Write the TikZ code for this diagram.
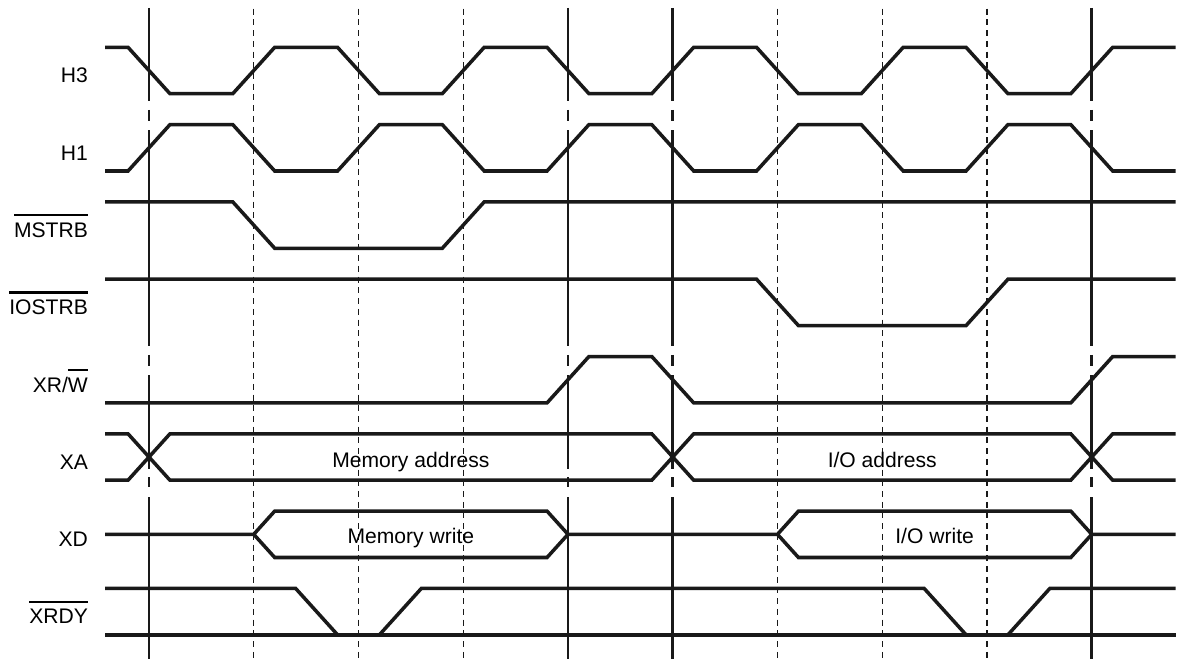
\documentclass[tikz,border=0pt]{standalone}
\usepackage{fontspec}
\setmainfont{Liberation Sans}
\usepackage{tikz}
\newcommand{\ovl}[1]{\leavevmode\vbox{\hrule height 1.3pt\kern 3.6pt\hbox{#1}}}

\begin{document}
\begin{tikzpicture}[x=2.095cm,y=-1.546cm,
  font=\fontsize{12}{14}\selectfont,
  sig/.style={line width=2pt,color=black!90},
  phase/.style={line width=1.5pt,color=black!90},
  tickline/.style={line width=0.8pt,dash pattern=on 3.4pt off 2.7pt,color=black!90},
  lbl/.style={anchor=base east,inner sep=0pt},
  val/.style={anchor=base,inner sep=0pt}]
\useasboundingbox (-1.4224,-0.912) rectangle (9.8234,7.613);
% cycle boundaries
\foreach \t in {1,2,3,6,7,8} \draw[tickline] (\t,-0.8) -- (\t,7.62);
\foreach \t in {0,4,5,9}
  \foreach \a/\b in {-0.81/0.39,0.51/0.65,0.77/3.56,3.68/3.82,3.94/5.15,5.26/5.39,5.52/7.62}
    \draw[phase] (\t,\a) -- (\t,\b);
% signal names
\foreach \r/\n/\s in {0/h3/H3,1/h1/H1,2/mstrb/{\ovl{MSTRB}},3/iostrb/{\ovl{IOSTRB}},4/xrw/{XR/\ovl{W}},5/xa/XA,6/xd/XD,7/xrdy/{\ovl{XRDY}}}
  \node[lbl] (l\n) at (-0.58,\r+0.16) {\s};
% clocks H3 and H1
\foreach \r/\p in {0/1,1/-1}
  \draw[sig] (-0.42,{\r-0.3*\p}) \foreach \k in {0,...,9} {
    -- ({\k-0.2},{\r-0.3*\p*(1-2*mod(\k,2))}) -- ({\k+0.2},{\r+0.3*\p*(1-2*mod(\k,2))}) }
    -- (9.8,{\r-0.3*\p});
% strobes
\draw[sig] (-0.42,1.7) -- (0.8,1.7) -- (1.2,2.3) -- (2.8,2.3) -- (3.2,1.7) -- (9.8,1.7);
\draw[sig] (-0.42,2.7) -- (5.8,2.7) -- (6.2,3.3) -- (7.8,3.3) -- (8.2,2.7) -- (9.8,2.7);
\draw[sig] (-0.42,4.3) -- (3.8,4.3) -- (4.2,3.7) -- (4.8,3.7) -- (5.2,4.3) -- (8.8,4.3) -- (9.2,3.7) -- (9.8,3.7);
% address bus
\draw[sig] (-0.42,4.7) -- (-0.2,4.7) -- (0.2,5.3) -- (4.8,5.3) -- (5.2,4.7) -- (8.8,4.7) -- (9.2,5.3) -- (9.8,5.3);
\draw[sig] (-0.42,5.3) -- (-0.2,5.3) -- (0.2,4.7) -- (4.8,4.7) -- (5.2,5.3) -- (8.8,5.3) -- (9.2,4.7) -- (9.8,4.7);
\node[val] (maddr) at (2.5,5.13) {Memory address};
\node[val] (ioaddr) at (7,5.13) {I/O address};
% data bus
\draw[sig] (-0.42,6) -- (1,6) -- (1.2,5.7) -- (3.8,5.7) -- (4,6) -- (6,6) -- (6.2,5.7) -- (8.8,5.7) -- (9,6) -- (9.8,6);
\draw[sig] (1,6) -- (1.2,6.3) -- (3.8,6.3) -- (4,6);
\draw[sig] (6,6) -- (6.2,6.3) -- (8.8,6.3) -- (9,6);
\node[val] (mwr) at (2.5,6.12) {Memory write};
\node[val] (iowr) at (7.5,6.12) {I/O write};
% ready
\draw[sig] (-0.42,7.3) -- (9.8,7.3);
\draw[sig] (-0.42,6.7) -- (1.4,6.7) -- (1.8,7.3);
\draw[sig] (2.2,7.3) -- (2.6,6.7) -- (7.4,6.7) -- (7.8,7.3);
\draw[sig] (8.2,7.3) -- (8.6,6.7) -- (9.8,6.7);
\end{tikzpicture}
\end{document}
